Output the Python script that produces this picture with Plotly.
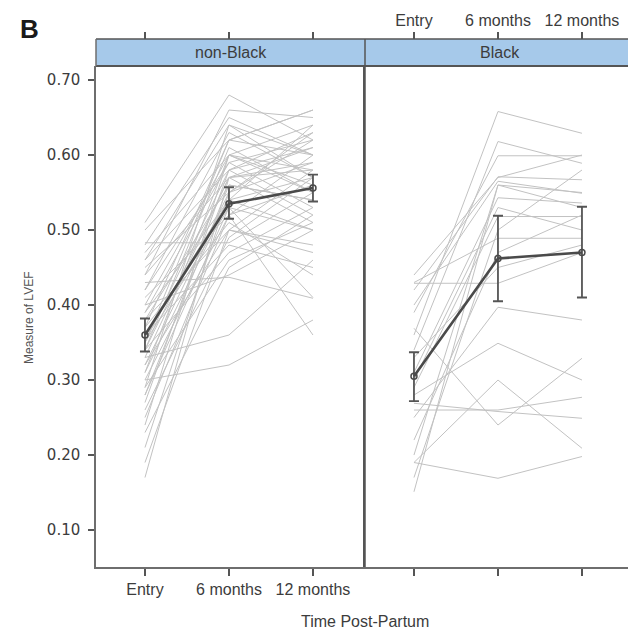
import plotly.graph_objects as go

# ---------------- data ----------------
time_labels = ["Entry", "6 months", "12 months"]
y_tick_vals = [0.1, 0.2, 0.3, 0.4, 0.5, 0.6, 0.7]
y_tick_text = ["0.10", "0.20", "0.30", "0.40", "0.50", "0.60", "0.70"]
panel_labels = ["non-Black", "Black"]

# individual trajectories, non-Black women
nonblack_entry = [0.51, 0.50, 0.48, 0.483, 0.47, 0.46, 0.45, 0.44, 0.43, 0.42,
                  0.41, 0.40, 0.40, 0.39, 0.38, 0.38, 0.37, 0.36, 0.36, 0.35,
                  0.35, 0.34, 0.34, 0.33, 0.33, 0.32, 0.32, 0.31, 0.30, 0.30,
                  0.29, 0.29, 0.28, 0.27, 0.26, 0.25, 0.24, 0.23, 0.21, 0.19,
                  0.17, 0.44, 0.42, 0.39, 0.37, 0.31, 0.35, 0.28, 0.46, 0.34]
nonblack_6m = [0.68, 0.62, 0.65, 0.483, 0.60, 0.58, 0.55, 0.57, 0.437, 0.63,
               0.52, 0.60, 0.44, 0.59, 0.56, 0.50, 0.62, 0.54, 0.48, 0.58,
               0.53, 0.61, 0.47, 0.36, 0.57, 0.55, 0.50, 0.60, 0.32, 0.52,
               0.64, 0.46, 0.56, 0.58, 0.49, 0.52, 0.60, 0.45, 0.55, 0.50,
               0.57, 0.66, 0.59, 0.54, 0.51, 0.54, 0.62, 0.53, 0.64, 0.57]
nonblack_12m = [0.62, 0.66, 0.60, 0.55, 0.64, 0.52, 0.63, 0.58, 0.409, 0.57,
                0.60, 0.56, 0.50, 0.62, 0.54, 0.58, 0.60, 0.57, 0.45, 0.61,
                0.50, 0.55, 0.53, 0.46, 0.59, 0.62, 0.48, 0.58, 0.38, 0.56,
                0.60, 0.51, 0.54, 0.63, 0.57, 0.36, 0.55, 0.52, 0.59, 0.47,
                0.61, 0.65, 0.53, 0.64, 0.44, 0.50, 0.66, 0.41, 0.57, 0.51]

# individual trajectories, Black women
black_entry = [0.36, 0.34, 0.39, 0.42, 0.40, 0.44, 0.31, 0.29, 0.43, 0.429,
               0.25, 0.28, 0.19, 0.369, 0.269, 0.19, 0.151, 0.17, 0.22, 0.26,
               0.30, 0.33, 0.20]
black_6m = [0.658, 0.618, 0.599, 0.571, 0.565, 0.57, 0.543, 0.518, 0.489, 0.429,
            0.397, 0.349, 0.30, 0.24, 0.258, 0.169, 0.56, 0.50, 0.47, 0.26,
            0.53, 0.45, 0.56]
black_12m = [0.629, 0.589, 0.599, 0.567, 0.549, 0.60, 0.536, 0.518, 0.489, 0.47,
             0.380, 0.30, 0.209, 0.329, 0.249, 0.198, 0.55, 0.58, 0.52, 0.277,
             0.50, 0.48, 0.53]

# group means with 95% CI
nonblack_mean = [0.360, 0.535, 0.556]
nonblack_lo = [0.338, 0.515, 0.538]
nonblack_hi = [0.382, 0.557, 0.574]
black_mean = [0.305, 0.462, 0.470]
black_lo = [0.272, 0.405, 0.410]
black_hi = [0.337, 0.519, 0.531]

# ---------------- styling ----------------
FONT = "Liberation Sans"
GRAY_LINE = "#c2c2c2"
MEAN_COL = "#4a4a4a"
AXIS_COL = "#6e6e6e"
TEXT_COL = "#3c3c3c"
STRIP_FILL = "#a6c9ea"

W, H = 628, 629
ML, MR, MT, MB = 96, 0, 39, 62
plot_w = W - ML - MR
plot_h = H - MT - MB
strip_h = 27
ydom_top = (plot_h - strip_h) / plot_h
split = 269 / plot_w
px_per_unit = 84.0
left_range = [-0.583, -0.583 + 269 / px_per_unit]
right_range = [-0.583, -0.583 + (plot_w - 269) / px_per_unit]

fig = go.Figure()


def add_panel(entry, m6, m12, mean, lo, hi, xa, ya):
    for a, b, c in zip(entry, m6, m12):
        fig.add_trace(go.Scatter(
            x=time_labels, y=[a, b, c], mode="lines",
            line=dict(color=GRAY_LINE, width=1),
            xaxis=xa, yaxis=ya, showlegend=False, hoverinfo="skip"))
    fig.add_trace(go.Scatter(
        x=time_labels, y=mean, mode="lines+markers",
        line=dict(color=MEAN_COL, width=2.6),
        marker=dict(symbol="circle-open", size=6, color=MEAN_COL,
                    line=dict(width=1.5, color=MEAN_COL)),
        error_y=dict(type="data", symmetric=False,
                     array=[h - m for h, m in zip(hi, mean)],
                     arrayminus=[m - l for m, l in zip(mean, lo)],
                     color="#555555", thickness=1.8, width=5),
        xaxis=xa, yaxis=ya, showlegend=False, hoverinfo="skip"))


add_panel(nonblack_entry, nonblack_6m, nonblack_12m,
          nonblack_mean, nonblack_lo, nonblack_hi, "x", "y")
add_panel(black_entry, black_6m, black_12m,
          black_mean, black_lo, black_hi, "x2", "y2")

# invisible traces that register the categories on the top axes
for xa, ya in [("x3", "y2"), ("x4", "y")]:
    fig.add_trace(go.Scatter(x=time_labels, y=[None] * 3, mode="markers",
                             xaxis=xa, yaxis=ya, showlegend=False,
                             hoverinfo="skip"))

tickfont = dict(family=FONT, size=16, color=TEXT_COL)
common_x = dict(type="category", categoryorder="array", categoryarray=time_labels,
                showgrid=False, zeroline=False, ticks="outside", ticklen=7,
                tickwidth=1.5, tickcolor="#555555", tickfont=tickfont)

fig.update_layout(
    width=W, height=H,
    margin=dict(l=ML, r=MR, t=MT, b=MB),
    paper_bgcolor="white", plot_bgcolor="white",
    font=dict(family=FONT, color=TEXT_COL),
    xaxis=dict(common_x, domain=[0, split], range=left_range, anchor="y",
               showline=True, linecolor=AXIS_COL, linewidth=1.5),
    xaxis2=dict(common_x, domain=[split, 1], range=right_range, anchor="y2",
                showline=True, linecolor=AXIS_COL, linewidth=1.5,
                showticklabels=False),
    xaxis3=dict(common_x, overlaying="x2", anchor="free", position=1,
                side="top", range=right_range, showline=False),
    xaxis4=dict(common_x, overlaying="x", anchor="free", position=1,
                side="top", range=left_range, showline=False,
                showticklabels=False),
    yaxis=dict(domain=[0, ydom_top], range=[0.0507, 0.7187], anchor="x",
               tickvals=y_tick_vals, ticktext=y_tick_text,
               ticks="outside", ticklen=6, tickwidth=1.5, tickcolor="#555555",
               ticklabelstandoff=5,
               tickfont=dict(family="DejaVu Sans", size=15, color=TEXT_COL),
               showgrid=False, zeroline=False,
               showline=True, linecolor=AXIS_COL, linewidth=1.5),
    yaxis2=dict(domain=[0, ydom_top], range=[0.0507, 0.7187], anchor="x2",
                showticklabels=False, ticks="", showgrid=False, zeroline=False,
                showline=True, linecolor="#555555", linewidth=1.5),
)

# facet strips
shapes = [
    dict(type="rect", xref="paper", yref="paper", x0=0, x1=1,
         y0=ydom_top, y1=1, fillcolor=STRIP_FILL, line=dict(width=0), layer="below"),
    dict(type="line", xref="paper", yref="paper", x0=0, x1=1, y0=1, y1=1,
         line=dict(color="#555555", width=1.5)),
    dict(type="line", xref="paper", yref="paper", x0=0, x1=1,
         y0=ydom_top, y1=ydom_top, line=dict(color="#555555", width=2)),
    dict(type="line", xref="paper", yref="paper", x0=0, x1=0,
         y0=ydom_top, y1=1, line=dict(color=AXIS_COL, width=1.5)),
    dict(type="line", xref="paper", yref="paper", x0=split, x1=split,
         y0=0, y1=1, line=dict(color="#555555", width=1.5)),
]
fig.update_layout(shapes=shapes)


def ann(text, xpx, ypx, size, color=TEXT_COL, angle=0):
    return dict(text=text, xref="paper", yref="paper",
                x=(xpx - ML) / plot_w, y=1 - (ypx - MT) / plot_h,
                xanchor="center", yanchor="middle", textangle=angle,
                showarrow=False, font=dict(family=FONT, size=size, color=color))


annotations = [
    ann(panel_labels[0], ML + 269 / 2, MT + strip_h / 2, 16),
    ann(panel_labels[1], ML + 269 + (plot_w - 269) / 2 + 3, MT + strip_h / 2, 16),
    ann("Time Post-Partum", 365, 621, 16),
    ann("Measure of LVEF", 29, 318, 12, "#555555", -90),
    ann("<b>B</b>", 29, 29, 26, "#1a1a1a"),
]
fig.update_layout(annotations=annotations)

fig.write_html("out.html")
